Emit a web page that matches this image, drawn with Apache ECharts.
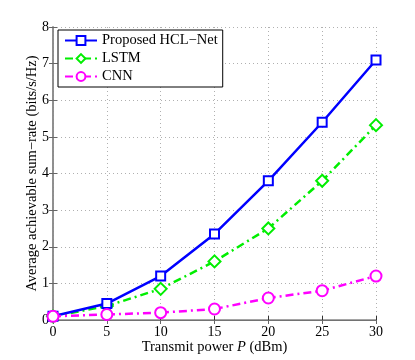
<!DOCTYPE html>
<html>
<head>
<meta charset="utf-8">
<script src="https://cdn.jsdelivr.net/npm/echarts@6/dist/echarts.min.js"></script>
<style>
  html, body { margin: 0; padding: 0; background: #fff; }
  #chart-container { width: 415px; height: 360px; }
</style>
</head>
<body>
<div id="chart-container"></div>
<script>
var dom = document.getElementById("chart-container");
var myChart = echarts.init(dom, null, { renderer: "canvas" });

// transmit power (dBm)
var power = [0, 5, 10, 15, 20, 25, 30];
// average achievable sum-rate (bits/s/Hz)
var hclNet = [0.1, 0.45, 1.2, 2.35, 3.8, 5.4, 7.1];
var lstm = [0.1, 0.38, 0.85, 1.6, 2.5, 3.8, 5.32];
var cnn = [0.1, 0.15, 0.2, 0.3, 0.6, 0.8, 1.2];

var font = "Liberation Serif";

function pairs(ys) {
  return power.map(function (p, i) { return [p, ys[i]]; });
}

var gridLine = { show: true, lineStyle: { color: "#b0b0b0", type: [1, 3], width: 1 } };

var option = {
  animation: false,
  backgroundColor: "#fff",
  textStyle: { fontFamily: font },
  grid: { left: 53, right: 39, top: 27, bottom: 40, containLabel: false, outerBoundsMode: "none" },
  legend: {
    orient: "vertical",
    left: 58,
    top: 30,
    padding: [3, 5, 3, 6],
    itemGap: 3,
    itemWidth: 32,
    itemHeight: 11,
    borderColor: "#000",
    borderWidth: 1,
    backgroundColor: "#fff",
    textStyle: { fontFamily: font, fontSize: 14.5, color: "#000" },
    data: ["Proposed HCL\u2212Net", "LSTM", "CNN"]
  },
  xAxis: [
    {
      type: "value",
      min: 0,
      max: 30,
      interval: 5,
      name: "Transmit power {i|P} (dBm)",
      nameLocation: "middle",
      nameGap: 20,
      nameMoveOverlap: false,
      nameTextStyle: {
        fontFamily: font, fontSize: 14.5, color: "#000",
        rich: { i: { fontFamily: font, fontSize: 14.5, fontStyle: "italic", color: "#000" } }
      },
      axisLine: { show: true, lineStyle: { color: "#333", width: 1 } },
      axisTick: { show: true, inside: true, length: 4, lineStyle: { color: "#333" } },
      axisLabel: { fontFamily: font, fontSize: 14, color: "#000", margin: 5 },
      splitLine: gridLine
    },
    {
      type: "value",
      position: "top",
      min: 0,
      max: 30,
      interval: 5,
      axisLine: { show: true, lineStyle: { color: "#888", width: 1.5 } },
      axisTick: { show: true, inside: true, length: 4, lineStyle: { color: "#666" } },
      axisLabel: { show: false },
      splitLine: { show: false }
    }
  ],
  yAxis: [
    {
      type: "value",
      min: 0,
      max: 8,
      interval: 1,
      name: "Average achievable sum\u2212rate (bits/s/Hz)",
      nameLocation: "middle",
      nameGap: 13,
      nameMoveOverlap: false,
      nameTextStyle: { fontFamily: font, fontSize: 14.5, color: "#000" },
      axisLine: { show: true, lineStyle: { color: "#888", width: 1.5 } },
      axisTick: { show: true, inside: true, length: 4, lineStyle: { color: "#666" } },
      axisLabel: { fontFamily: font, fontSize: 14, color: "#000", margin: 4 },
      splitLine: gridLine
    },
    {
      type: "value",
      position: "right",
      min: 0,
      max: 8,
      interval: 1,
      axisLine: { show: true, lineStyle: { color: "#888", width: 1.5 } },
      axisTick: { show: true, inside: true, length: 4, lineStyle: { color: "#666" } },
      axisLabel: { show: false },
      splitLine: { show: false }
    }
  ],
  series: [
    {
      name: "Proposed HCL\u2212Net",
      type: "line",
      data: pairs(hclNet),
      symbol: "emptyRect",
      symbolSize: 9,
      color: "#0000ff",
      lineStyle: { width: 2.5, color: "#0000ff" },
      itemStyle: { color: "#0000ff", borderWidth: 2 },
      z: 4
    },
    {
      name: "LSTM",
      type: "line",
      data: pairs(lstm),
      symbol: "emptyDiamond",
      symbolSize: 12,
      color: "#00ee00",
      lineStyle: { width: 2.5, color: "#00ee00", type: [8, 4, 2, 4] },
      itemStyle: { color: "#00ee00", borderWidth: 2 },
      z: 3
    },
    {
      name: "CNN",
      type: "line",
      data: pairs(cnn),
      symbol: "emptyCircle",
      symbolSize: 11,
      color: "#ff00ff",
      lineStyle: { width: 2.5, color: "#ff00ff", type: [8, 4, 2, 4] },
      itemStyle: { color: "#ff00ff", borderWidth: 2 },
      z: 5
    }
  ]
};

myChart.setOption(option);
window.addEventListener("resize", myChart.resize);
</script>
</body>
</html>
